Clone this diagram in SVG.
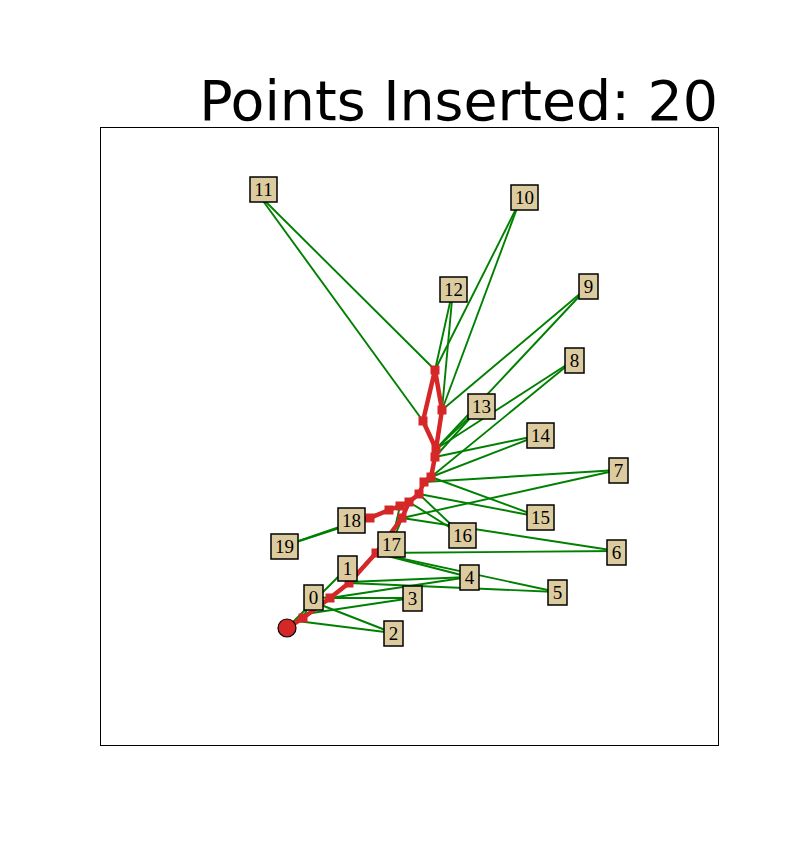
<svg xmlns="http://www.w3.org/2000/svg" width="798" height="864" viewBox="0 0 798 864">
<style>
.g line{stroke:#008000;stroke-width:1.9}
.path{fill:none;stroke:#d62728;stroke-width:4.5;stroke-linejoin:round}
.sq{fill:#d62728}
.box rect{fill:#dccb9f;stroke:#000;stroke-width:1.5}
.box text{font-family:"Liberation Serif","DejaVu Serif",serif;font-size:19px;text-anchor:middle;fill:#000}
</style>
<rect width="798" height="864" fill="#fff"/>
<text x="718" y="120" font-family="DejaVu Sans, sans-serif" font-size="55.4" text-anchor="end">Points Inserted: 20</text>
<rect x="100.5" y="127.5" width="618" height="618" fill="none" stroke="#000" stroke-width="1"/>
<g id="connectors" class="g">
<line x1="313" y1="597" x2="303" y2="618"/>
<line x1="313" y1="597" x2="330" y2="598"/>
<line x1="347" y1="568" x2="287" y2="628"/>
<line x1="347" y1="568" x2="349" y2="583"/>
<line x1="393" y1="633" x2="297" y2="621"/>
<line x1="393" y1="633" x2="316" y2="603"/>
<line x1="412" y1="598" x2="330" y2="598"/>
<line x1="412" y1="598" x2="305" y2="614"/>
<line x1="469" y1="577" x2="330" y2="598"/>
<line x1="469" y1="577" x2="349" y2="582"/>
<line x1="469" y1="577" x2="376" y2="553"/>
<line x1="557" y1="592" x2="349" y2="583"/>
<line x1="557" y1="592" x2="376" y2="553"/>
<line x1="617" y1="551" x2="376" y2="553"/>
<line x1="617" y1="551" x2="402" y2="518"/>
<line x1="618" y1="470" x2="424" y2="482"/>
<line x1="618" y1="470" x2="402" y2="518"/>
<line x1="574" y1="360" x2="436" y2="449"/>
<line x1="574" y1="360" x2="431" y2="477"/>
<line x1="588" y1="287" x2="442" y2="410"/>
<line x1="588" y1="287" x2="436" y2="449"/>
<line x1="519" y1="203" x2="435" y2="370"/>
<line x1="519" y1="203" x2="442" y2="410"/>
<line x1="258" y1="194" x2="435" y2="370"/>
<line x1="258" y1="194" x2="423" y2="421"/>
<line x1="453" y1="289" x2="435" y2="370"/>
<line x1="453" y1="289" x2="442" y2="410"/>
<line x1="481" y1="406" x2="436" y2="449"/>
<line x1="481" y1="406" x2="435" y2="457"/>
<line x1="540" y1="435" x2="435" y2="457"/>
<line x1="540" y1="435" x2="431" y2="477"/>
<line x1="540" y1="517" x2="431" y2="477"/>
<line x1="540" y1="517" x2="419" y2="494"/>
<line x1="462" y1="535" x2="419" y2="494"/>
<line x1="462" y1="535" x2="409" y2="502"/>
<line x1="391" y1="545" x2="409" y2="502"/>
<line x1="391" y1="545" x2="400" y2="506"/>
<line x1="284" y1="546" x2="370" y2="518"/>
<line x1="284" y1="546" x2="389" y2="510"/>
</g>
<g id="path">
<polyline class="path" points="287,628 303,618 330,598 349,583 376,553 402,518 409,502 419,494 424,482 431,477 435,457 436,449 442,410 435,370 423,421 436,449"/>
<polyline class="path" points="409,502 400,506 389,510 370,518 351,520"/>
<g class="sq">
<rect x="298.5" y="613.5" width="9" height="9"/>
<rect x="325.5" y="593.5" width="9" height="9"/>
<rect x="344.5" y="578.5" width="9" height="9"/>
<rect x="371.5" y="548.5" width="9" height="9"/>
<rect x="397.5" y="513.5" width="9" height="9"/>
<rect x="404.5" y="497.5" width="9" height="9"/>
<rect x="414.5" y="489.5" width="9" height="9"/>
<rect x="419.5" y="477.5" width="9" height="9"/>
<rect x="426.5" y="472.5" width="9" height="9"/>
<rect x="430.5" y="452.5" width="9" height="9"/>
<rect x="431.5" y="444.5" width="9" height="9"/>
<rect x="437.5" y="405.5" width="9" height="9"/>
<rect x="430.5" y="365.5" width="9" height="9"/>
<rect x="418.5" y="416.5" width="9" height="9"/>
<rect x="395.5" y="501.5" width="9" height="9"/>
<rect x="384.5" y="505.5" width="9" height="9"/>
<rect x="365.5" y="513.5" width="9" height="9"/>
</g>
<circle cx="287" cy="628" r="9" fill="#d62728" stroke="#000" stroke-width="1.2"/>
</g>
<g id="n0" class="box"><rect x="304" y="585" width="19" height="25"/><text x="313.5" y="604">0</text></g>
<g id="n1" class="box"><rect x="338" y="556" width="19" height="25"/><text x="347.5" y="575">1</text></g>
<g id="n2" class="box"><rect x="384" y="621" width="19" height="25"/><text x="393.5" y="640">2</text></g>
<g id="n3" class="box"><rect x="403" y="586" width="19" height="25"/><text x="412.5" y="605">3</text></g>
<g id="n4" class="box"><rect x="460" y="565" width="19" height="25"/><text x="469.5" y="584">4</text></g>
<g id="n5" class="box"><rect x="548" y="580" width="19" height="25"/><text x="557.5" y="599">5</text></g>
<g id="n6" class="box"><rect x="607" y="540" width="19" height="25"/><text x="616.5" y="559">6</text></g>
<g id="n7" class="box"><rect x="609" y="458" width="19" height="25"/><text x="618.5" y="477">7</text></g>
<g id="n8" class="box"><rect x="565" y="348" width="19" height="25"/><text x="574.5" y="367">8</text></g>
<g id="n9" class="box"><rect x="579" y="274" width="19" height="25"/><text x="588.5" y="293">9</text></g>
<g id="n10" class="box"><rect x="511" y="185" width="27" height="25"/><text x="524.5" y="204">10</text></g>
<g id="n11" class="box"><rect x="250" y="177" width="27" height="25"/><text x="263.5" y="196">11</text></g>
<g id="n12" class="box"><rect x="440" y="277" width="27" height="25"/><text x="453.5" y="296">12</text></g>
<g id="n13" class="box"><rect x="468" y="394" width="27" height="25"/><text x="481.5" y="413">13</text></g>
<g id="n14" class="box"><rect x="527" y="423" width="27" height="25"/><text x="540.5" y="442">14</text></g>
<g id="n15" class="box"><rect x="527" y="505" width="27" height="25"/><text x="540.5" y="524">15</text></g>
<g id="n16" class="box"><rect x="449" y="523" width="27" height="25"/><text x="462.5" y="542">16</text></g>
<g id="n17" class="box"><rect x="378" y="532" width="27" height="25"/><text x="391.5" y="551">17</text></g>
<g id="n18" class="box"><rect x="338" y="508" width="27" height="25"/><text x="351.5" y="527">18</text></g>
<g id="n19" class="box"><rect x="271" y="534" width="27" height="25"/><text x="284.5" y="553">19</text></g>
</svg>
